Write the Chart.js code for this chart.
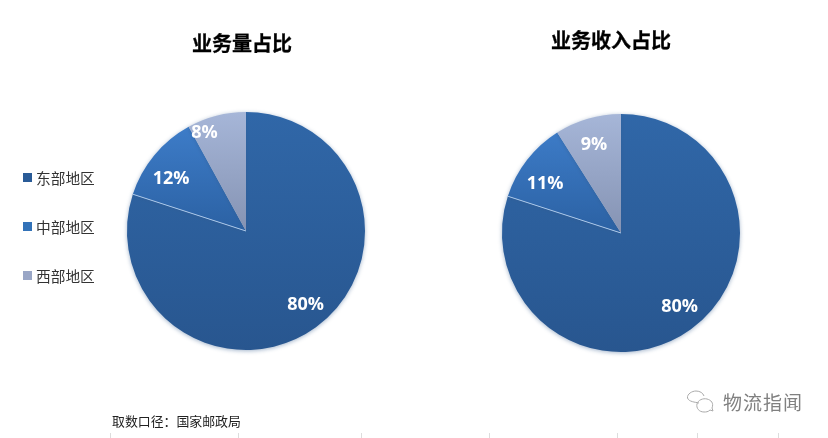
<!DOCTYPE html>
<html lang="zh-CN">
  <head>
    <meta charset="UTF-8" />
    <title>业务量占比 / 业务收入占比</title>
    <script src="https://cdn.jsdelivr.net/npm/chart.js@4"></script>
    <style>
      html, body { margin: 0; padding: 0; background: #fff; }
      body { width: 828px; height: 438px; position: relative; overflow: hidden; font-family: "Noto Sans CJK SC", sans-serif; }
      .pie { position: absolute; top: 0; height: 438px; }
      .pie canvas { display: block; }
      #pie1 { left: 0; width: 492px; }
      #pie2 { left: 431px; width: 380px; }
      .title { position: absolute; font-size: 20px; line-height: 24px; font-weight: bold; color: #000; white-space: nowrap; transform: translateX(-50%); -webkit-text-stroke: 0.3px #000; }
      #title1 { left: 242px; top: 31px; }
      #title2 { left: 611px; top: 28px; }
      #legend { position: absolute; left: 23px; top: 153px; margin: 0; padding: 0; list-style: none; }
      #legend li { display: flex; align-items: center; height: 49px; font-size: 14.7px; color: #333; white-space: nowrap; }
      #legend i { width: 9px; height: 9px; margin-right: 4px; }
      #source { position: absolute; left: 112px; top: 411px; font-size: 12.9px; color: #222; }
      #brand { position: absolute; left: 723px; top: 388px; font-size: 19px; color: #808080; letter-spacing: 1px; }
      #wechat { position: absolute; left: 686px; top: 390px; }
      .tick { position: absolute; top: 433px; width: 1px; height: 5px; background: #ddd; }
    </style>
  </head>
  <body>
    <div class="pie" id="pie1"><canvas id="chart1"></canvas></div>
    <div class="pie" id="pie2"><canvas id="chart2"></canvas></div>
    <div class="title" id="title1"></div>
    <div class="title" id="title2"></div>
    <ul id="legend"></ul>
    <div id="source">取数口径：国家邮政局</div>
    <svg id="wechat" width="30" height="24" viewBox="0 0 30 24" fill="none" stroke="#aaa" stroke-width="1">
      <path d="M13 13 C9 12 3 12 1.5 8 C1 4 6 1 10 1 C14 1 17 3 18 6" />
      <path d="M18 22 C13 22 10 18 11 14 C12 10 17 8 21 9 C25 10 28 13 26 18 L27 21 L24 20 C22 22 20 22 18 22 Z" />
    </svg>
    <div id="brand">物流指闻</div>

    <script>
      const regions = ['东部地区', '中部地区', '西部地区'];
      const volumeShare = [80, 12, 8];
      const revenueShare = [80, 11, 9];
      const titles = ['业务量占比', '业务收入占比'];

      // top / bottom colour of each slice's gradient
      const sliceTop = ['#3067a8', '#3d7cc8', '#a6b6d8'];
      const sliceBottom = ['#28568f', '#2b61a3', '#8593b3'];
      const legendColors = ['#2a5b97', '#3272b8', '#99a6c6'];
      const tickX = [110, 238, 361, 489, 617, 697, 778];

      const RADIUS = 119;

      // whole pie for the big slice, top half for the two small ones
      function sliceGradient(c) {
        const area = c.chart.chartArea;
        if (!area) return sliceTop[c.dataIndex];
        const cy = (area.top + area.bottom) / 2;
        const startY = c.dataIndex === 1 ? cy - RADIUS + 15 : cy - RADIUS;
        const endY = c.dataIndex === 0 ? cy + RADIUS : cy;
        const g = c.chart.ctx.createLinearGradient(0, startY, 0, endY);
        g.addColorStop(0, sliceTop[c.dataIndex]);
        g.addColorStop(1, sliceBottom[c.dataIndex]);
        return g;
      }

      const pieDecor = {
        id: 'pieDecor',
        beforeDatasetsDraw(chart) {
          const ctx = chart.ctx;
          ctx.save();
          ctx.shadowColor = 'rgba(50,90,140,0.45)';
          ctx.shadowBlur = 4;
          ctx.shadowOffsetY = 1;
        },
        afterDatasetsDraw(chart, args, opts) {
          const ctx = chart.ctx;
          ctx.restore();
          const arcs = chart.getDatasetMeta(0).data;

          // pale hairline between the big slice and the next one
          const a = arcs[1];
          ctx.save();
          ctx.strokeStyle = '#a9c6e8';
          ctx.lineWidth = 1;
          ctx.beginPath();
          ctx.moveTo(a.x, a.y);
          ctx.lineTo(a.x + Math.cos(a.startAngle) * RADIUS, a.y + Math.sin(a.startAngle) * RADIUS);
          ctx.stroke();

          ctx.fillStyle = '#fff';
          ctx.font = 'bold 18px "Open Sans", sans-serif';
          ctx.textAlign = 'center';
          ctx.textBaseline = 'middle';
          chart.data.datasets[0].data.forEach((v, i) => {
            const arc = arcs[i];
            const mid = (arc.startAngle + arc.endAngle) / 2;
            const r = opts.labelRadius[i];
            const x = arc.x + Math.cos(mid) * r + opts.nudgeX[i];
            const y = arc.y + Math.sin(mid) * r + opts.nudgeY[i];
            ctx.fillText(v + '%', x, y);
          });
          ctx.restore();
        }
      };

      function drawPie(id, values, padTop, labelRadius, nudgeX, nudgeY) {
        new Chart(document.getElementById(id), {
          type: 'pie',
          data: {
            labels: regions,
            datasets: [{ data: values, backgroundColor: sliceGradient, borderWidth: 0, radius: RADIUS }]
          },
          options: {
            responsive: true,
            maintainAspectRatio: false,
            animation: false,
            layout: { padding: { top: padTop } },
            plugins: {
              legend: { display: false },
              tooltip: { enabled: false },
              pieDecor: { labelRadius, nudgeX, nudgeY }
            }
          },
          plugins: [pieDecor]
        });
      }

      drawPie('chart1', volumeShare, 24, [93, 92, 107], [5, -4, -15], [-1, 7, 6]);
      drawPie('chart2', revenueShare, 28, [93, 91, 93], [4, -4, -1], [-1, 7, 1]);

      document.getElementById('title1').textContent = titles[0];
      document.getElementById('title2').textContent = titles[1];

      const legend = document.getElementById('legend');
      regions.forEach((name, i) => {
        const li = document.createElement('li');
        const swatch = document.createElement('i');
        swatch.style.background = legendColors[i];
        li.appendChild(swatch);
        li.appendChild(document.createTextNode(name));
        legend.appendChild(li);
      });

      tickX.forEach(x => {
        const t = document.createElement('div');
        t.className = 'tick';
        t.style.left = x + 'px';
        document.body.appendChild(t);
      });
    </script>
  </body>
</html>
